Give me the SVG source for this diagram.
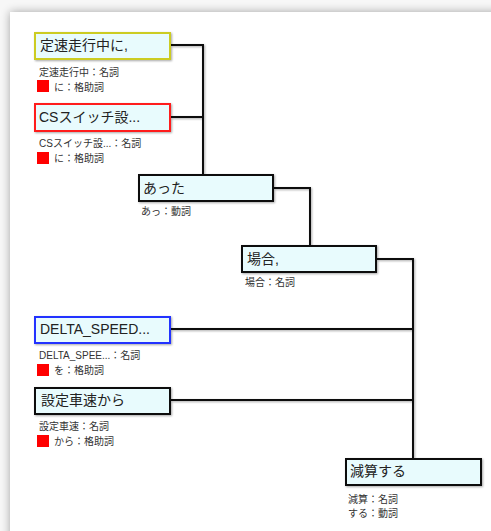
<svg xmlns="http://www.w3.org/2000/svg" width="491" height="531" viewBox="0 0 491 531">
<defs>
<filter id="panelShadow" x="-10%" y="-10%" width="120%" height="120%">
<feGaussianBlur in="SourceAlpha" stdDeviation="5"/>
<feComponentTransfer><feFuncA type="linear" slope="0.35"/></feComponentTransfer>
<feMerge><feMergeNode/><feMergeNode in="SourceGraphic"/></feMerge>
</filter>
<filter id="sh" x="-10%" y="-10%" width="130%" height="140%">
<feGaussianBlur in="SourceAlpha" stdDeviation="0.8"/>
<feOffset dx="1" dy="1"/>
<feComponentTransfer><feFuncA type="linear" slope="0.35"/></feComponentTransfer>
<feMerge><feMergeNode/><feMergeNode in="SourceGraphic"/></feMerge>
</filter>
</defs>
<style>
.box{fill:#e8fbfd;stroke-width:2}
.lbl{font-family:"Liberation Sans","Noto Sans CJK JP",sans-serif;font-size:14px;fill:#222}
.sub{font-family:"Liberation Sans","Noto Sans CJK JP",sans-serif;font-size:10px;fill:#333}
.sq{fill:#ff0000}
.conn{fill:none;stroke:#111;stroke-width:2}
</style>
<rect x="0" y="0" width="491" height="531" fill="#f7f7f7"/>
<rect x="10" y="12" width="500" height="540" fill="#ffffff" filter="url(#panelShadow)"/>
<g id="connectors" filter="url(#sh)">
<polyline class="conn" points="171,45 203,45 203,174"/>
<polyline class="conn" points="171,117 203,117"/>
<polyline class="conn" points="274,188 310,188 310,245"/>
<polyline class="conn" points="377,259 413,259 413,458"/>
<polyline class="conn" points="171,329 413,329"/>
<polyline class="conn" points="171,400 413,400"/>
</g>
<g id="n1">
<rect class="box" x="35" y="33" width="135" height="26" stroke="#cccc22" filter="url(#sh)"/>
<text class="lbl" x="40" y="50">定速走行中に,</text>
<text class="sub" x="39" y="76">定速走行中：名詞</text>
<rect class="sq" x="37" y="80" width="12" height="12"/>
<text class="sub" x="54" y="91">に：格助詞</text>
</g>
<g id="n2">
<rect class="box" x="35" y="104" width="135" height="27" stroke="#ff1a1a" filter="url(#sh)"/>
<text class="lbl" x="39" y="122">CSスイッチ設...</text>
<text class="sub" x="39" y="147">CSスイッチ設...：名詞</text>
<rect class="sq" x="37" y="152" width="12" height="12"/>
<text class="sub" x="54" y="162">に：格助詞</text>
</g>
<g id="n3">
<rect class="box" x="139" y="175" width="134" height="26" stroke="#111" filter="url(#sh)"/>
<text class="lbl" x="143" y="193">あった</text>
<text class="sub" x="141" y="215">あっ：動詞</text>
</g>
<g id="n4">
<rect class="box" x="242" y="246" width="134" height="26" stroke="#111" filter="url(#sh)"/>
<text class="lbl" x="247" y="264">場合,</text>
<text class="sub" x="245" y="286">場合：名詞</text>
</g>
<g id="n5">
<rect class="box" x="35" y="317" width="135" height="26" stroke="#2233ff" filter="url(#sh)"/>
<text class="lbl" x="40" y="334">DELTA_SPEED...</text>
<text class="sub" x="39" y="359">DELTA_SPEE...：名詞</text>
<rect class="sq" x="37" y="364" width="12" height="12"/>
<text class="sub" x="54" y="374">を：格助詞</text>
</g>
<g id="n6">
<rect class="box" x="35" y="388" width="135" height="26" stroke="#111" filter="url(#sh)"/>
<text class="lbl" x="41" y="405">設定車速から</text>
<text class="sub" x="39" y="430">設定車速：名詞</text>
<rect class="sq" x="37" y="435" width="12" height="12"/>
<text class="sub" x="54" y="445">から：格助詞</text>
</g>
<g id="n7">
<rect class="box" x="346" y="459" width="135" height="26" stroke="#111" filter="url(#sh)"/>
<text class="lbl" x="350" y="476">減算する</text>
<text class="sub" x="348" y="503">減算：名詞</text>
<text class="sub" x="348" y="517">する：動詞</text>
</g>
</svg>
